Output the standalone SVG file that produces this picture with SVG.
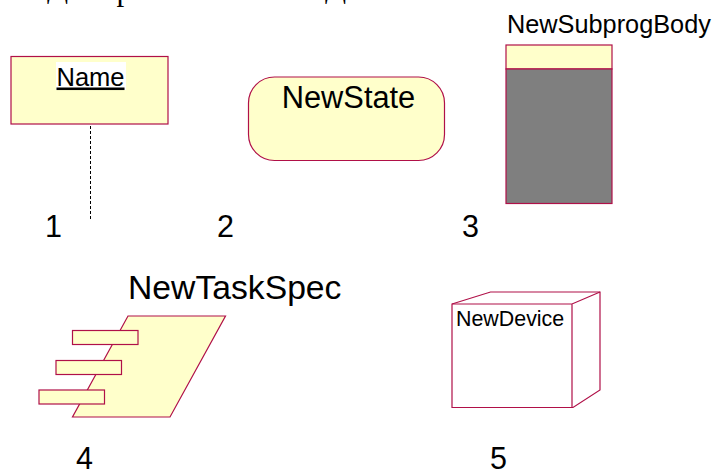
<svg xmlns="http://www.w3.org/2000/svg" width="715" height="470" viewBox="0 0 715 470">
<style>
.s{fill:#ffffcb;stroke:#b01048;stroke-width:1.2}
.w{fill:#fff;stroke:#b01048;stroke-width:1.2}
text{font-family:"Liberation Sans",Arial,sans-serif;fill:#000}
.n{font-size:30.500px}
.top{font-family:"Liberation Serif","Times New Roman",serif;font-size:31px}
</style>
<rect width="715" height="470" fill="#fff"/>
<g id="clipped-text">
<text class="top" x="47" y="-3">Д</text>
<text class="top" x="116.500" y="0">р</text>
<text class="top" x="325" y="-3">Д</text>
</g>
<g id="object">
<rect class="s" x="11" y="56.500" width="157" height="67.500"/>
<rect x="56" y="62" width="70" height="28" fill="#fff"/>
<text x="90.500" y="85.500" font-size="25.500" text-anchor="middle" text-decoration="underline">Name</text>
</g>
<g id="connectors">
<line x1="90.500" y1="126" x2="90.500" y2="219" stroke="#000" stroke-width="1" stroke-dasharray="3 2"/>
</g>
<g id="state">
<rect class="s" x="248.500" y="77" width="196" height="83.500" rx="26" ry="26"/>
<text x="348.500" y="108" font-size="30.800" text-anchor="middle">NewState</text>
</g>
<g id="subprog">
<rect class="s" x="506" y="45" width="106" height="24"/>
<rect x="506" y="69" width="106" height="134.500" fill="#7f7f7f" stroke="#b01048" stroke-width="1.200"/>
<text x="507" y="33" font-size="25.300">NewSubprogBody</text>
</g>
<g id="taskspec">
<polygon class="s" points="128,316 225.500,316 170,417 72.500,417"/>
<rect class="s" x="72.500" y="330.500" width="65.500" height="14"/>
<rect class="s" x="56" y="360.500" width="65.500" height="14"/>
<rect class="s" x="39" y="390" width="65.500" height="14"/>
<text x="128" y="299" font-size="33.700">NewTaskSpec</text>
</g>
<g id="device">
<polygon class="w" points="452,304 490.500,292 600,292 600,390 573,407.500 452,407.500"/>
<path d="M452 304H572L600 292M572 304V407.500" fill="none" stroke="#b01048" stroke-width="1.200"/>
<text x="456" y="325.500" font-size="21.400">NewDevice</text>
</g>
<g id="numbers">
<text class="n" x="45" y="237">1</text>
<text class="n" x="217" y="237">2</text>
<text class="n" x="462" y="237">3</text>
<text class="n" x="76" y="469">4</text>
<text class="n" x="490" y="469">5</text>
</g>
</svg>
